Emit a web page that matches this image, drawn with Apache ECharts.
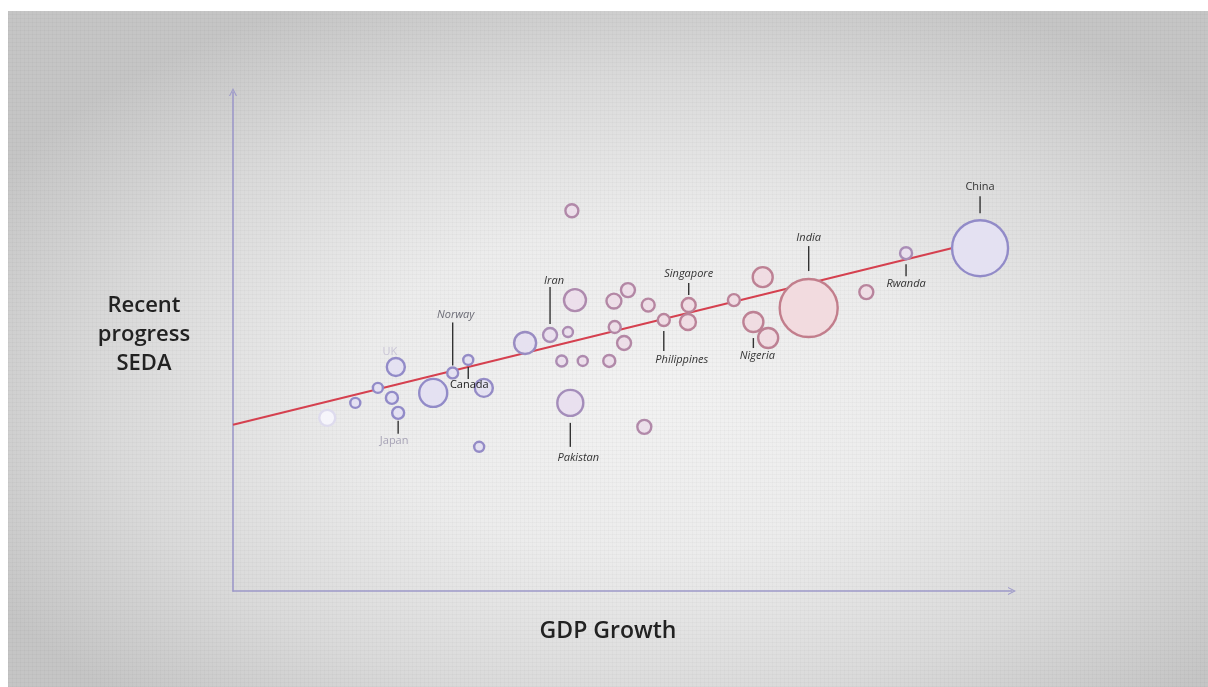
<!DOCTYPE html>
<html>
<head>
<meta charset="utf-8">
<script src="https://cdn.jsdelivr.net/npm/echarts@6/dist/echarts.min.js"></script>
<style>
  html, body { margin: 0; padding: 0; width: 1208px; height: 687px; background: #ffffff; overflow: hidden; }
  #bg { position: absolute; left: 8px; top: 11px; right: 0; bottom: 0;
    background:
      repeating-linear-gradient(0deg, rgba(0,0,0,0.025) 0px, rgba(0,0,0,0.025) 1px, transparent 1px, transparent 4px),
      repeating-linear-gradient(90deg, rgba(0,0,0,0.02) 0px, rgba(0,0,0,0.02) 1px, transparent 1px, transparent 4px),
      radial-gradient(ellipse 62% 64% at 53% 56%, #f2f2f2 0%, #ececec 38%, #dadada 72%, #c5c5c5 100%);
  }
  #chart { position: absolute; left: 0; top: 0; width: 1208px; height: 687px; }
</style>
</head>
<body>
<div id="bg"></div>
<div id="chart"></div>
<script>
// ---- data (arbitrary 0-100 index scales) ----
const names = ['', '', '', 'UK', '', 'Japan', '', 'Norway', 'Canada', '', '', '',
  '', 'Iran', '', '', 'Pakistan', '', '', '', '', '', '', '', '', '',
  'Philippines', 'Singapore', '', '', '', 'Nigeria', '', 'India', '', 'Rwanda', 'China'];
const gdpGrowth = [12.1, 15.7, 18.6, 20.9, 20.4, 21.2, 25.7, 28.2, 30.2, 32.2, 31.6, 37.5,
  43.5, 40.7, 43.0, 43.9, 43.3, 42.2, 44.9, 48.3, 48.9, 50.7, 49.0, 50.2, 53.3, 52.8,
  55.3, 58.5, 58.4, 64.3, 68.0, 66.8, 68.7, 73.9, 81.3, 86.4, 95.9];
const sedaProgress = [34.7, 37.7, 40.7, 44.9, 38.7, 35.7, 39.7, 43.7, 46.3, 40.7, 28.9, 49.7,
  76.2, 51.3, 51.9, 58.3, 37.7, 46.1, 46.1, 46.1, 58.1, 60.3, 52.9, 49.7, 57.3, 32.9,
  54.3, 57.3, 53.9, 58.3, 62.9, 53.9, 50.7, 56.7, 59.9, 67.7, 68.7];
const population = [64, 25, 25, 81, 36, 36, 196, 30, 25, 81, 25, 121,
  42, 49, 25, 121, 169, 30, 25, 36, 56, 49, 36, 49, 42, 49,
  36, 49, 64, 36, 100, 100, 100, 841, 49, 36, 784];
// colour group value: 0 = blue-violet, 1 = rose
const tone = [0, 0.05, 0.05, 0.05, 0.05, 0.05, 0.05, 0.1, 0.1, 0.1, 0.1, 0.2,
  0.65, 0.5, 0.55, 0.6, 0.4, 0.55, 0.6, 0.65, 0.7, 0.7, 0.7, 0.7, 0.75, 0.65,
  0.8, 0.85, 0.85, 0.85, 0.9, 0.9, 0.9, 1.0, 0.8, 0.5, 0.05];
const trendGdp = [0, 95.9];
const trendSeda = [33.3, 70.1];

// ---- styling (not data) ----
const FADED = [0];
const LABEL_LAYOUT = {
  'China':       { up: true,  gap: 6, len: 17, dx: 0,  tgap: 9,  color: '#333333', italic: false },
  'India':       { up: true,  gap: 7, len: 25, dx: 0,  tgap: 8,  color: '#333333', italic: true },
  'Rwanda':      { up: false, gap: 4, len: 12, dx: 0,  tgap: 8,  color: '#333333', italic: true },
  'Singapore':   { up: true,  gap: 2, len: 12, dx: 0,  tgap: 9,  color: '#333333', italic: true },
  'Philippines': { up: false, gap: 4, len: 20, dx: 18, tgap: 9,  color: '#333333', italic: true },
  'Nigeria':     { up: false, gap: 5, len: 10, dx: 4,  tgap: 8,  color: '#333333', italic: true },
  'Iran':        { up: true,  gap: 3, len: 37, dx: 4,  tgap: 6,  color: '#333333', italic: true },
  'Pakistan':    { up: false, gap: 6, len: 24, dx: 8,  tgap: 11, color: '#333333', italic: true },
  'Norway':      { up: true,  gap: 1, len: 43, dx: 3,  tgap: 8,  color: '#6b6b75', italic: true },
  'Canada':      { up: false, gap: 1, len: 12, dx: 1,  tgap: 6,  color: '#222222', italic: false },
  'UK':          { up: true,  gap: 0, len: 0,  dx: -6, tgap: 5,  color: '#c9c5d6', italic: false, noLine: true },
  'Japan':       { up: false, gap: 1, len: 13, dx: -4, tgap: 7,  color: '#a7a3b6', italic: false }
};

function hex2rgb(h) { return [parseInt(h.slice(1,3),16), parseInt(h.slice(3,5),16), parseInt(h.slice(5,7),16)]; }
function lerpColor(t, stops) {
  const n = stops.length - 1;
  const s = Math.min(n - 1e-9, Math.max(0, t * n));
  const i = Math.floor(s), f = s - i;
  const a = hex2rgb(stops[i]), b = hex2rgb(stops[i + 1]);
  return 'rgb(' + a.map((v, k) => Math.round(v + (b[k] - v) * f)).join(',') + ')';
}
const BORDER_STOPS = ['#8f8bca', '#a98db6', '#c27e8c'];
const FILL_STOPS = ['#e3e1f2', '#eae0ee', '#f2dbdf'];

function sizeOf(p) { return 2 * Math.sqrt(p); }

const scatterData = gdpGrowth.map((x, i) => {
  const faded = FADED.indexOf(i) >= 0;
  return {
    name: names[i],
    value: [x, sedaProgress[i], population[i]],
    itemStyle: {
      color: faded ? '#f6f5fb' : lerpColor(tone[i], FILL_STOPS),
      borderColor: faded ? '#dedbee' : lerpColor(tone[i], BORDER_STOPS),
      borderWidth: 2.4,
      opacity: 1
    }
  };
});

const labelData = [];
names.forEach((n, i) => {
  if (n) labelData.push({ name: n, value: [gdpGrowth[i], sedaProgress[i], population[i]] });
});

const chart = echarts.init(document.getElementById('chart'), null, { renderer: 'canvas' });
const axisColor = '#9d99c9';
const arrowPath = 'path://M0,10 L5,0 L10,10 L8.6,10 L5,2.8 L1.4,10 Z';

chart.setOption({
  animation: false,
  backgroundColor: 'transparent',
  grid: { left: 233, right: 196, top: 92, bottom: 96, containLabel: false },
  xAxis: {
    type: 'value', min: 0, max: 100,
    axisLine: { show: true, onZero: false, symbol: ['none', arrowPath], symbolSize: [10, 8],
      lineStyle: { color: axisColor, width: 1.6 } },
    axisTick: { show: false }, axisLabel: { show: false }, splitLine: { show: false }
  },
  yAxis: {
    type: 'value', min: 0, max: 100,
    axisLine: { show: true, onZero: false, symbol: ['none', arrowPath], symbolSize: [10, 8],
      lineStyle: { color: axisColor, width: 1.6 } },
    axisTick: { show: false }, axisLabel: { show: false }, splitLine: { show: false }
  },
  graphic: [
    { type: 'text', z: 10, x: 144, y: 335,
      style: { text: 'Recent\nprogress\nSEDA', x: 0, y: 0, align: 'center', verticalAlign: 'middle',
        font: '600 22px "Open Sans", sans-serif', fill: '#222222', lineHeight: 29 } },
    { type: 'text', z: 10, x: 608, y: 631,
      style: { text: 'GDP Growth', x: 0, y: 0, align: 'center', verticalAlign: 'middle',
        font: '600 23px "Open Sans", sans-serif', fill: '#222222' } }
  ],
  series: [
    {
      type: 'line', z: 1, silent: true, symbol: 'none',
      data: trendGdp.map((x, i) => [x, trendSeda[i]]),
      lineStyle: { color: '#d5404f', width: 2 }
    },
    {
      type: 'scatter', z: 2, silent: true,
      symbolSize: v => sizeOf(v[2]),
      data: scatterData
    },
    {
      type: 'custom', z: 3, silent: true,
      data: labelData,
      renderItem: function (params, api) {
        const item = labelData[params.dataIndex];
        const lay = LABEL_LAYOUT[item.name];
        const p = api.coord([api.value(0), api.value(1)]);
        const r = sizeOf(api.value(2)) / 2 + 1;
        const dir = lay.up ? -1 : 1;
        const y0 = p[1] + dir * (r + lay.gap);
        const y1 = y0 + dir * lay.len;
        const children = [];
        if (!lay.noLine) {
          children.push({ type: 'line', shape: { x1: p[0], y1: y0, x2: p[0], y2: y1 },
            style: { stroke: '#333333', lineWidth: 1.4 } });
        }
        children.push({ type: 'text', x: p[0] + lay.dx, y: y1 + dir * lay.tgap,
          style: { text: item.name, align: 'center', verticalAlign: 'middle',
            font: (lay.italic ? 'italic ' : '') + '11px "Open Sans", sans-serif', fill: lay.color } });
        return { type: 'group', children: children };
      }
    }
  ]
});
</script>
</body>
</html>
